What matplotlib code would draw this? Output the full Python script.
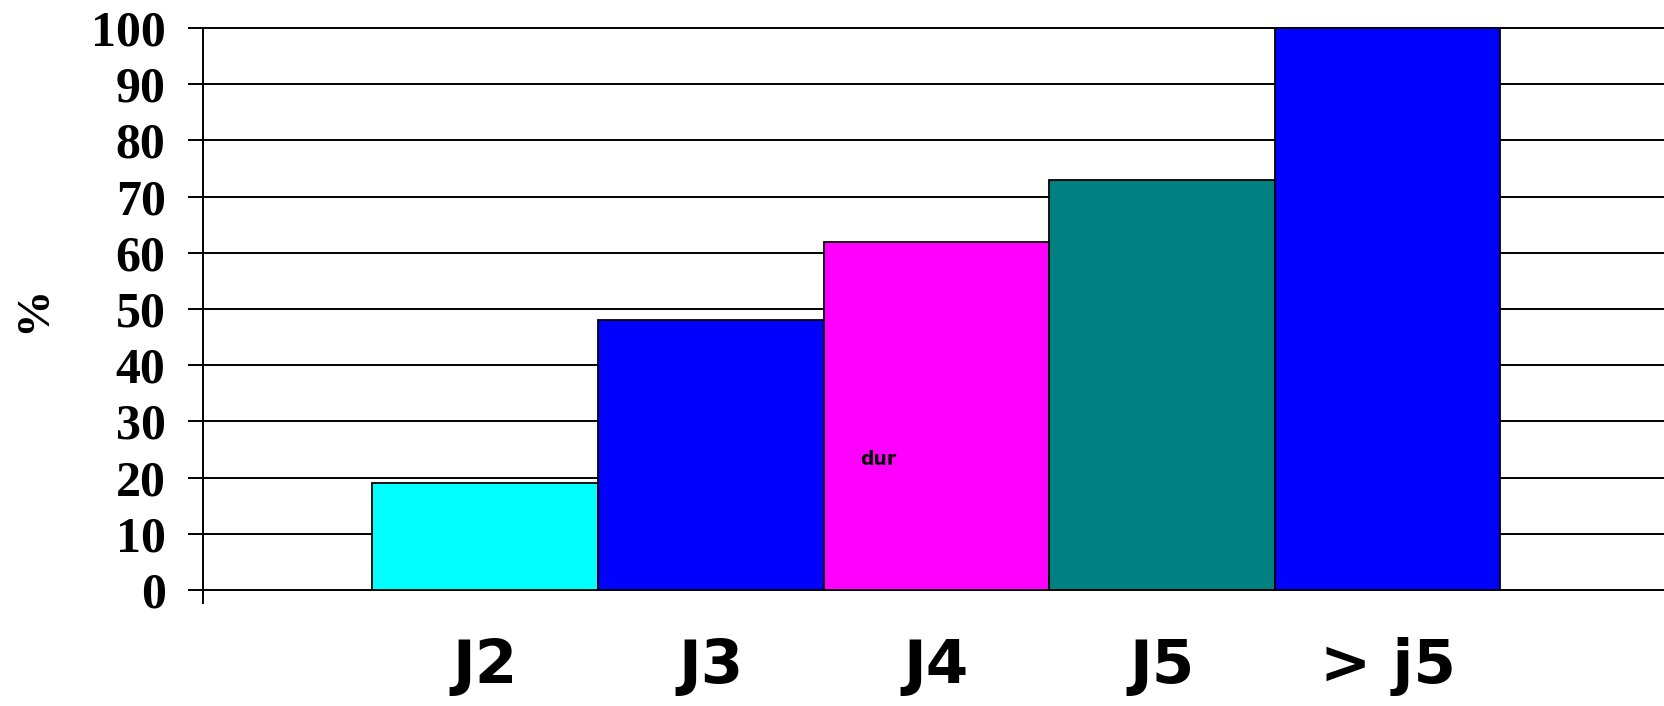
import matplotlib
matplotlib.use("Agg")
import matplotlib.pyplot as plt

categories = ["J2", "J3", "J4", "J5", "> j5"]
values = [19, 48, 62, 73, 100]
bar_colors = ["#00FFFF", "#0000FF", "#FF00FF", "#008080", "#0000FF"]
y_ticks = [0, 10, 20, 30, 40, 50, 60, 70, 80, 90, 100]
y_label = "%"
note_text = "dur"
note_x = 1.74
note_y = 22.2

fig = plt.figure(figsize=(16.64, 7.06), dpi=100)
ax = fig.add_axes([0.122, 0.1643, 0.878, 0.796])

x = list(range(len(categories)))
ax.bar(x, values, width=1.0, color=bar_colors, edgecolor="black",
       linewidth=1.3, zorder=3)

ax.set_xlim(-1.251, 5.225)
ax.set_ylim(0, 100)
ax.set_yticks(y_ticks)
ax.set_yticklabels([str(v) for v in y_ticks],
                   fontfamily="Liberation Serif", fontweight="bold", fontsize=36)
ax.set_xticks(x)
ax.set_xticklabels(categories, fontfamily="DejaVu Sans", fontweight="bold",
                   fontsize=44)

ax.tick_params(axis="y", direction="out", length=11, width=1.4, pad=16,
               color="black")
ax.tick_params(axis="x", length=0, pad=34)

ax.yaxis.grid(True, color="black", linewidth=1.4, zorder=0)
ax.set_axisbelow(True)
for gl in ax.get_ygridlines():
    gl.set_clip_on(False)

for side in ["top", "right", "bottom"]:
    ax.spines[side].set_visible(False)
ax.spines["left"].set_linewidth(1.4)
ax.spines["left"].set_bounds(-2.3, 100)

ax.set_ylabel(y_label, fontfamily="Liberation Serif", fontweight="bold",
              fontsize=34, labelpad=26)

ax.text(note_x, note_y, note_text, ha="center", va="baseline",
        fontfamily="DejaVu Sans", fontweight="bold", fontsize=13.5,
        color="black", zorder=4)

fig.savefig("out.png", dpi=100)
